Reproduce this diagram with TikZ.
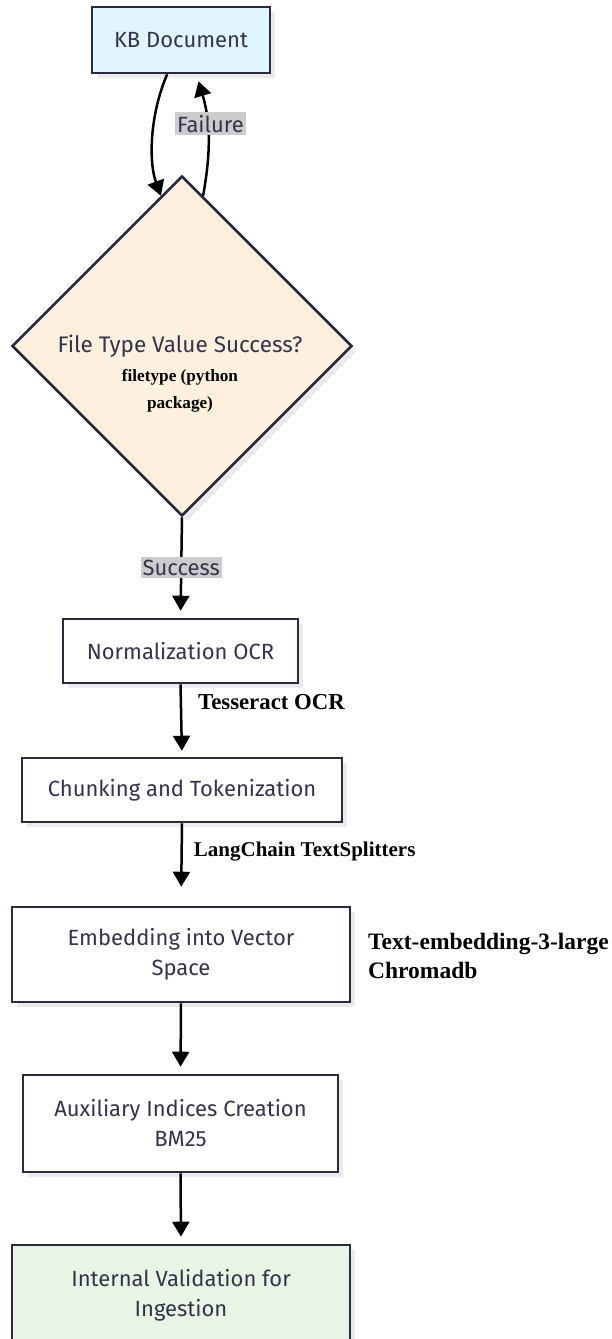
\documentclass[tikz,border=0pt]{standalone}
\usepackage{fontspec}
\setmainfont{Liberation Serif}
\newfontfamily\boxfont{Fira Sans}
\usetikzlibrary{shapes.geometric,arrows.meta,shadows,positioning}
\definecolor{edgec}{HTML}{2B2B40}
\definecolor{txtc}{HTML}{33334A}
\definecolor{kbfill}{HTML}{E1F5FE}
\definecolor{peach}{HTML}{FEF0DE}
\definecolor{greenf}{HTML}{E8F4E4}
\definecolor{lblfill}{HTML}{CCCCCC}
\tikzset{
  procbox/.style={draw=edgec, line width=2.6pt, fill=white, text=txtc,
    font=\boxfont\fontsize{22}{30}\selectfont, align=center,
    drop shadow={shadow xshift=5pt, shadow yshift=-5pt, fill=black, opacity=0.08}},
  arr/.style={line width=2.5pt, -{Triangle[length=15pt,width=17pt]}},
  edgelbl/.style={fill=lblfill, text=txtc, font=\boxfont\fontsize{22}{26}\selectfont, inner xsep=2pt, inner ysep=3pt},
  note/.style={font=\bfseries, align=left, text=black, inner sep=0pt},
}
\begin{document}
\begin{tikzpicture}[x=1pt,y=-1pt]
\useasboundingbox (0,0) rectangle (611,1339);
\fill[white] (0,0) rectangle (611,1339);

\node[procbox, fill=kbfill, minimum width=178pt, minimum height=66pt] (kb) at (181,40) {KB Document};

\node[shape=diamond, draw=edgec, fill=peach, line width=2.6pt, minimum width=340pt, minimum height=340pt, inner sep=0pt,
  drop shadow={shadow xshift=5pt, shadow yshift=-5pt, fill=black, opacity=0.08}] (dia) at (182,346) {};
\node[text=txtc, font=\boxfont\fontsize{22.5}{26}\selectfont] (diat) at (180,346) {File Type Value Success?};
\node[font=\fontsize{17.2}{27.5}\selectfont\bfseries, align=center] (dian) at (180,391) {filetype (python\\package)};

\node[procbox, minimum width=235pt, minimum height=64pt] (norm) at (180.5,651) {Normalization OCR};
\node[procbox, minimum width=320pt, minimum height=64pt] (chunk) at (182,790) {Chunking and Tokenization};
\node[procbox, minimum width=338pt, minimum height=95pt] (emb) at (181,954.5) {Embedding into Vector\\Space};
\node[procbox, minimum width=315pt, minimum height=97pt] (aux) at (180.5,1123.5) {Auxiliary Indices Creation\\BM25};
\node[procbox, fill=greenf, minimum width=338pt, minimum height=100pt] (val) at (181,1295) {Internal Validation for\\Ingestion};

\node[note, anchor=west, font=\fontsize{23.5}{29}\selectfont\bfseries] (embn) at (368,955.5) {Text-embedding-3-large\\Chromadb};

\draw[arr] (kb.248) .. controls +(-18,42) and +(-12,-33) .. (dia.98);
\draw[arr] (dia.82) .. controls +(8,-45) and +(12,40) .. node[edgelbl, pos=0.62, xshift=3pt] (fl) {Failure} ([yshift=-7pt]kb.297);
\draw[arr, shorten >=7pt] (dia.south) -- node[edgelbl, pos=0.5] (sl) {Success} (norm.north);
\draw[arr, shorten >=6pt] (norm.south) -- node[note, right=16pt, pos=0.25, font=\fontsize{22.8}{26}\selectfont\bfseries] (tl) {Tesseract OCR} (chunk.north);
\draw[arr, shorten >=19pt] (chunk.south) -- node[note, right=11pt, pos=0.345, font=\fontsize{21}{26}\selectfont\bfseries] (ll) {LangChain TextSplitters} (emb.north);
\draw[arr, shorten >=7pt] (emb.south) -- (aux.north);
\draw[arr, shorten >=7pt] (aux.south) -- (val.north);
\end{tikzpicture}
\end{document}
